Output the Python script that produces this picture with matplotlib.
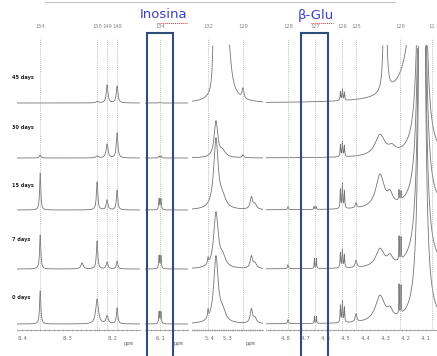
import numpy as np
import matplotlib.pyplot as plt
from matplotlib.patches import Rectangle
from matplotlib.lines import Line2D
from matplotlib.ticker import MultipleLocator

# ---- data ----
days = ['45 days', '30 days', '15 days', '7 days', '0 days']

# peaks as (ppm, height, half width), one list per day (45, 30, 15, 7, 0)
peaks_arom = [
    [(8.235, 1.5, 0.003), (8.213, 18, 0.0022), (8.191, 17, 0.0022)],
    [(8.36, 3, 0.002), (8.235, 2, 0.003), (8.213, 14, 0.0025), (8.191, 25, 0.002)],
    [(8.36, 37, 0.0015), (8.235, 28, 0.0018), (8.213, 10, 0.0022), (8.191, 20, 0.0018)],
    [(8.36, 34, 0.0016), (8.268, 6, 0.003), (8.235, 28, 0.0018), (8.213, 7, 0.0022), (8.191, 8, 0.0018)],
    [(8.36, 33, 0.0016), (8.235, 25, 0.0035), (8.213, 8, 0.0028), (8.191, 16, 0.0018)],
]
peaks_ino = [
    [(6.102, 0.5, 0.001), (6.098, 0.5, 0.001)],
    [(6.102, 2, 0.001), (6.098, 2, 0.001)],
    [(6.102, 11, 0.0011), (6.098, 11, 0.0011)],
    [(6.102, 13, 0.0011), (6.098, 13, 0.0011)],
    [(6.102, 12, 0.0011), (6.098, 12, 0.0011)],
]
peaks_anom = [
    [(5.375, 300, 0.004), (5.34, 300, 0.006), (5.31, 100, 0.02), (5.217, 10, 0.006)],
    [(5.367, 36, 0.012), (5.33, 6, 0.02), (5.217, 3, 0.005)],
    [(5.367, 70, 0.015), (5.33, 10, 0.02), (5.17, 12, 0.008), (5.15, 5, 0.01)],
    [(5.411, 6, 0.003), (5.367, 55, 0.015), (5.33, 10, 0.02), (5.17, 12, 0.008), (5.15, 5, 0.01)],
    [(5.411, 8, 0.003), (5.367, 66, 0.015), (5.33, 10, 0.02), (5.17, 14, 0.008), (5.15, 5, 0.01)],
]
peaks_sugar = [
    [(4.528, 9, 0.002), (4.518, 11, 0.002), (4.508, 8, 0.002), (4.305, 400, 0.004), (4.12, 1500, 0.0156)],
    [(4.528, 12, 0.002), (4.518, 15, 0.002), (4.508, 11, 0.002), (4.33, 21, 0.03), (4.27, 6, 0.02),
     (4.12, 1500, 0.008)],
    [(4.79, 3, 0.003), (4.66, 3, 0.002), (4.65, 3, 0.002), (4.528, 19, 0.002), (4.518, 24, 0.002),
     (4.508, 17, 0.002), (4.45, 5, 0.004), (4.33, 33, 0.025), (4.28, 10, 0.015), (4.235, 10, 0.0015),
     (4.225, 8, 0.0015), (4.12, 1500, 0.008)],
    [(4.79, 4, 0.003), (4.658, 10, 0.0015), (4.648, 10, 0.0015), (4.528, 15, 0.002), (4.518, 18, 0.002),
     (4.508, 13, 0.002), (4.45, 7, 0.005), (4.33, 18, 0.025), (4.28, 8, 0.015), (4.235, 24, 0.0012),
     (4.225, 22, 0.0012), (4.12, 1500, 0.008)],
    [(4.79, 4, 0.003), (4.658, 7, 0.0015), (4.648, 7, 0.0015), (4.528, 17, 0.002), (4.518, 21, 0.002),
     (4.508, 15, 0.002), (4.45, 8, 0.005), (4.33, 26, 0.028), (4.28, 8, 0.015), (4.235, 30, 0.0012),
     (4.225, 28, 0.0012), (4.12, 1500, 0.008)],
]

# carbon labels on top of the dotted guide lines
guides_arom = [(8.36, '154'), (8.235, '150'), (8.213, '149'), (8.191, '148')]
guides_ino = [(6.1, '134')]
guides_anom = [(5.411, '132'), (5.217, '129')]
guides_sugar = [(4.79, '128'), (4.655, '127'), (4.52, '126'), (4.45, '125'), (4.23, '120'), (4.07, '11')]

ticks_arom = [8.4, 8.3, 8.2]
ticks_ino = [6.1]
ticks_anom = [5.4, 5.3]
ticks_sugar = [4.8, 4.7, 4.6, 4.5, 4.4, 4.3, 4.2, 4.1]

# ---- layout (pixels of a 437x356 picture) ----
W, H = 437, 356
fig = plt.figure(figsize=(W / 100, H / 100), dpi=100)

base_pix = [103, 158, 210, 269, 324]
label_pix = [77, 128, 185, 240, 297]
axis_y = H - 330
cap = H - 45
grey = '#6f6f6f'
mono = 'DejaVu Sans Mono'


def spectrum(x, peaks):
    y = np.zeros_like(x)
    for p, h, w in peaks:
        y += h * w ** 2 / ((x - p) ** 2 + w ** 2)
    return y


def panel(x0, x1, left, right, peaks, guides, ticks, ppm_at=None):
    ax = fig.add_axes([x0 / W, 0, (x1 - x0) / W, 1])
    ax.set_xlim(left, right)
    ax.set_ylim(0, H)
    ax.patch.set_alpha(0)
    for s in ['left', 'right', 'top']:
        ax.spines[s].set_visible(False)
    ax.spines['bottom'].set_position(('data', axis_y))
    ax.spines['bottom'].set_color('#9a9a9a')
    ax.spines['bottom'].set_linewidth(0.6)
    ax.set_yticks([])
    ax.set_xticks(ticks)
    ax.set_xticklabels([f'{t:.1f}' for t in ticks], family=mono, fontsize=4, color=grey)
    ax.xaxis.set_minor_locator(MultipleLocator(0.01 if abs(left - right) < 0.5 else 0.02))
    ax.tick_params(axis='x', which='both', direction='inout', length=2, width=0.4,
                   color='#9a9a9a', pad=3)
    ax.tick_params(axis='x', which='minor', length=1.2)
    if ppm_at is not None:
        ax.text(ppm_at, axis_y - 11, 'ppm', family=mono, fontsize=4, color=grey, ha='center', va='top')

    x = np.linspace(left, right, 3000)
    for i, pk in enumerate(peaks):
        y = H - base_pix[i] + spectrum(x, pk)
        y[y > cap] = np.nan
        ax.plot(x, y, color='#757575', lw=0.6)

    for p, lab in guides:
        ax.vlines(p, axis_y, H - 38, colors='#a8a8a8', linestyles=(0, (1, 1.5)), lw=0.6)
        ax.text(p, H - 27, lab, family=mono, fontsize=4, color='#8a8a8a', ha='center', va='center')
    return ax


panel(17, 140, 8.4 + 5 / 455, 8.4 - 118 / 455, peaks_arom, guides_arom, ticks_arom, 8.167)
panel(145, 188, 6.1 + 15 / 455, 6.1 - 28 / 455, peaks_ino, guides_ino, ticks_ino, 6.06)
panel(192, 263, 5.4 + 18 / 180, 5.4 - 53 / 180, peaks_anom, guides_anom, ticks_anom, 5.178)
panel(266, 437, 4.8 + 20 / 200, 4.8 - 151 / 200, peaks_sugar, guides_sugar, ticks_sugar)

# day labels
for lab, yp in zip(days, label_pix):
    fig.text(12 / W, 1 - yp / H, lab, fontsize=3.6, fontweight='bold', color='#222222', va='center')

# thin line across the top
fig.add_artist(Line2D([45 / W, 395 / W], [1 - 1.5 / H, 1 - 1.5 / H], color='#c8c8c8', lw=0.8))

# highlighted boxes and their titles
box_col = '#2f4e7c'
for bx, bw, title, tx, ul in [(147, 26, 'Inosina', 164, (157, 187)), (301, 27, 'β-Glu', 316, (311, 333))]:
    fig.add_artist(Rectangle((bx / W, -0.02), bw / W, (H - 33) / H + 0.02, transform=fig.transFigure,
                             fill=False, ec=box_col, lw=1.5))
    fig.text(tx / W, 1 - 15 / H, title, fontsize=9.5, color='#3b3fc6', ha='center', va='center')
    fig.add_artist(Line2D([ul[0] / W, ul[1] / W], [1 - 23 / H, 1 - 23 / H], color='#e03030',
                          lw=0.7, ls=(0, (1, 1))))

fig.savefig('out.png', dpi=100)
